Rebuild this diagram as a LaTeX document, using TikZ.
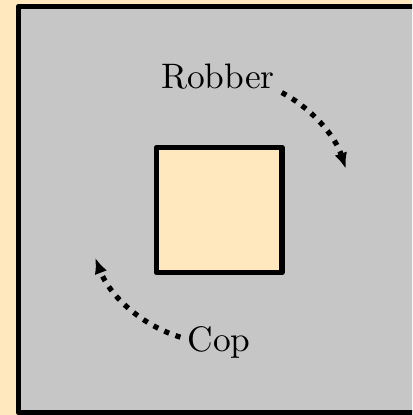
\documentclass[tikz,border=0pt]{standalone}
\usetikzlibrary{arrows.meta,calc}
\definecolor{cream}{RGB}{255,232,190}
\definecolor{floorgrey}{RGB}{198,198,198}
\tikzset{wall/.style={draw,line width=2.7pt,line join=round},
 lbl/.style={scale=1.77,inner sep=0pt,anchor=base},
 chase/.style={line width=2.6pt,dash pattern=on 2.6pt off 3.4pt,-{Latex[length=8pt,width=6.5pt]}}}
\begin{document}
\begin{tikzpicture}[x=0.5pt,y=0.5pt]
\fill[cream](0,0)rectangle(412,415);\useasboundingbox(0,0)rectangle(412,415);\clip(0,0)rectangle(412,415);
\draw[wall,fill=floorgrey](18.5,2.5)rectangle(424.5,408.5);
\node[wall,fill=cream,minimum size=62.7pt,inner sep=0pt](house)at(219.3,205){};
\node[lbl](robber)at(218,326){Robber};\node[lbl](cop)at(219,63){Cop};
\coordinate(rs)at($(house.center)+(62:133)$);\coordinate(cs)at($(house.center)+(253:133)$);
\draw[chase](rs)arc[start angle=62,end angle=18,radius=133];
\draw[chase](cs)arc[start angle=253,end angle=201,radius=133];
\end{tikzpicture}
\end{document}
